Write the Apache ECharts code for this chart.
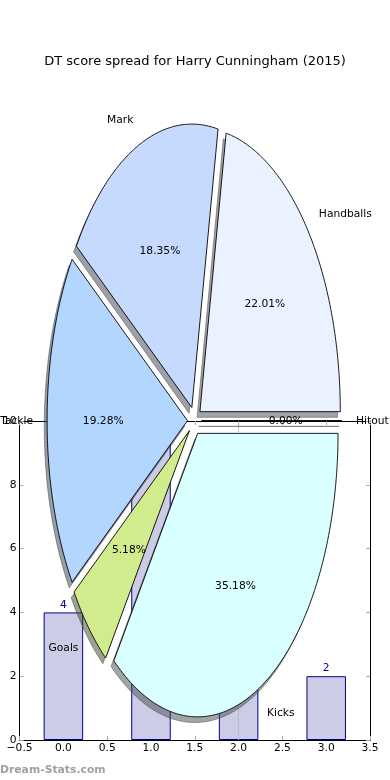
<!DOCTYPE html>
<html>
<head>
<meta charset="utf-8">
<script src="https://cdn.jsdelivr.net/npm/echarts@6/dist/echarts.min.js"></script>
<style>html,body{margin:0;padding:0;background:#fff;}#c{width:390px;height:780px;}</style>
</head>
<body>
<div id="c"></div>
<script>
// ---- data ----
const titleText = 'DT score spread for Harry Cunningham (2015)';
const pieLabels = ['Handballs', 'Mark', 'Tackle', 'Goals', 'Kicks', 'Hitout'];
const piePercents = [22.01, 18.35, 19.28, 5.18, 35.18, 0.00];
const pieColors = ['#ebf2ff', '#c6d9ff', '#b3d6ff', '#d1ec8c', '#d9ffff', '#ffffff'];
const barPositions = [0, 1, 2, 3];
const barValues = [4, 10, 3, 2];
const xTickMin = -0.5, xTickMax = 3.5, xTickStep = 0.5;
const yTickMin = 0, yTickMax = 10, yTickStep = 2;
const markLineX = 2;

// ---- style ----
const FONT = 'DejaVu Sans';
const EXPLODE = 0.05, LABEL_DIST = 1.1, PCT_DIST = 0.6, SHADOW_OFF = -0.02;

const total = piePercents.reduce((a, b) => a + b, 0);
const starts = [];
{ let acc = 0; piePercents.forEach(p => { starts.push(acc); acc += p; }); }

function geom(i) {
  const a1 = starts[i] / total * 2 * Math.PI;
  const a2 = (starts[i] + piePercents[i]) / total * 2 * Math.PI;
  const mid = (a1 + a2) / 2;
  return { a1, a2, mid, ox: EXPLODE * Math.cos(mid), oy: EXPLODE * Math.sin(mid) };
}
function wedgePoints(api, i, dx, dy) {
  const g = geom(i);
  const pts = [api.coord([g.ox + dx, g.oy + dy])];
  const n = Math.max(2, Math.ceil((g.a2 - g.a1) / 0.01));
  for (let k = 0; k <= n; k++) {
    const t = g.a1 + (g.a2 - g.a1) * k / n;
    pts.push(api.coord([g.ox + dx + Math.cos(t), g.oy + dy + Math.sin(t)]));
  }
  return pts;
}
function shade(hex) {
  const r = parseInt(hex.slice(1, 3), 16), g = parseInt(hex.slice(3, 5), 16), b = parseInt(hex.slice(5, 7), 16);
  return 'rgba(' + Math.round(r * 0.3) + ',' + Math.round(g * 0.3) + ',' + Math.round(b * 0.3) + ',0.5)';
}

const pieData = piePercents.map((p, i) => [i, p]);

const tickStyle = { show: true, inside: true, length: 4, lineStyle: { color: '#aaaaaa' } };
const spine = { show: true, onZero: false, lineStyle: { color: '#000', width: 1 } };
const fmt = v => (v < 0 ? '\u2212' : '') + Math.abs(v).toFixed(1);

const chart = echarts.init(document.getElementById('c'), null, { renderer: 'canvas' });
chart.setOption({
  animation: false,
  title: {
    text: titleText, left: 'center', top: 55, padding: 0,
    textStyle: { fontFamily: FONT, fontSize: 13, fontWeight: 'normal', color: '#000' }
  },
  grid: [
    { left: 19, top: 421, width: 351, height: 319 },
    { left: 12, top: 52.15, width: 365, height: 708.75 }
  ],
  xAxis: [
    { gridIndex: 0, type: 'value', min: xTickMin, max: xTickMax, interval: xTickStep, position: 'bottom',
      axisLine: spine, axisTick: tickStyle,
      axisLabel: { formatter: fmt, color: '#000', fontFamily: FONT, fontSize: 10.7, margin: 3, showMinLabel: true, showMaxLabel: true },
      splitLine: { show: false } },
    { gridIndex: 0, type: 'value', min: xTickMin, max: xTickMax, interval: xTickStep, position: 'top',
      axisLine: spine, axisTick: tickStyle,
      axisLabel: { show: false }, splitLine: { show: false } },
    { gridIndex: 1, type: 'value', min: -1.3, max: 1.3, show: false }
  ],
  yAxis: [
    { gridIndex: 0, type: 'value', min: yTickMin, max: yTickMax, interval: yTickStep, position: 'left',
      axisLine: spine, axisTick: tickStyle,
      axisLabel: { color: '#000', fontFamily: FONT, fontSize: 10.7, margin: 3 },
      splitLine: { show: false } },
    { gridIndex: 0, type: 'value', min: yTickMin, max: yTickMax, interval: yTickStep, position: 'right',
      axisLine: spine, axisTick: tickStyle,
      axisLabel: { show: false }, splitLine: { show: false } },
    { gridIndex: 1, type: 'value', min: -1.2, max: 1.3, show: false }
  ],
  graphic: [
    { type: 'text', left: 0, top: 765, z: 100,
      style: { text: 'Dream-Stats.com', font: 'bold 10.8px "DejaVu Sans"', fill: '#a0a0a0' } }
  ],
  series: [
    {
      type: 'bar', xAxisIndex: 0, yAxisIndex: 0, z: 2,
      data: barPositions.map((x, i) => [x, barValues[i]]),
      barWidth: 39.5,
      itemStyle: { color: '#ccccE6', borderColor: '#00008b', borderWidth: 1 },
      label: { show: true, position: 'top', distance: 2, color: '#00008b', fontFamily: FONT, fontSize: 10.7 },
      markLine: {
        silent: true, symbol: 'none', label: { show: false },
        lineStyle: { color: '#aaaaaa', type: 'dotted', width: 1 },
        data: [{ xAxis: markLineX }]
      }
    },
    {
      type: 'custom', coordinateSystem: 'cartesian2d', xAxisIndex: 2, yAxisIndex: 2, z: 5, silent: true,
      data: pieData,
      renderItem: function (params, api) {
        const i = params.dataIndex;
        return {
          type: 'polygon',
          shape: { points: wedgePoints(api, i, SHADOW_OFF, SHADOW_OFF) },
          style: { fill: shade(pieColors[i]), stroke: shade(pieColors[i]), lineWidth: 1 }
        };
      }
    },
    {
      type: 'custom', coordinateSystem: 'cartesian2d', xAxisIndex: 2, yAxisIndex: 2, z: 6, silent: true,
      data: pieData,
      renderItem: function (params, api) {
        const i = params.dataIndex;
        const g = geom(i);
        const c = Math.cos(g.mid), s = Math.sin(g.mid);
        const lp = api.coord([g.ox + LABEL_DIST * c, g.oy + LABEL_DIST * s]);
        const pp = api.coord([g.ox + PCT_DIST * c, g.oy + PCT_DIST * s]);
        return {
          type: 'group',
          children: [
            { type: 'polygon', shape: { points: wedgePoints(api, i, 0, 0) },
              style: { fill: pieColors[i], stroke: '#000', lineWidth: 0.9 } },
            { type: 'text', z2: 100,
              style: { text: pieLabels[i], x: lp[0], y: lp[1] + 1, align: c > 0 ? 'left' : 'right', verticalAlign: 'middle',
                       font: '10.7px "DejaVu Sans"', fill: '#000' } },
            { type: 'text', z2: 100,
              style: { text: piePercents[i].toFixed(2) + '%', x: pp[0], y: pp[1] + 1, align: 'center', verticalAlign: 'middle',
                       font: '10.7px "DejaVu Sans"', fill: '#000' } }
          ]
        };
      }
    }
  ]
});
</script>
</body>
</html>
